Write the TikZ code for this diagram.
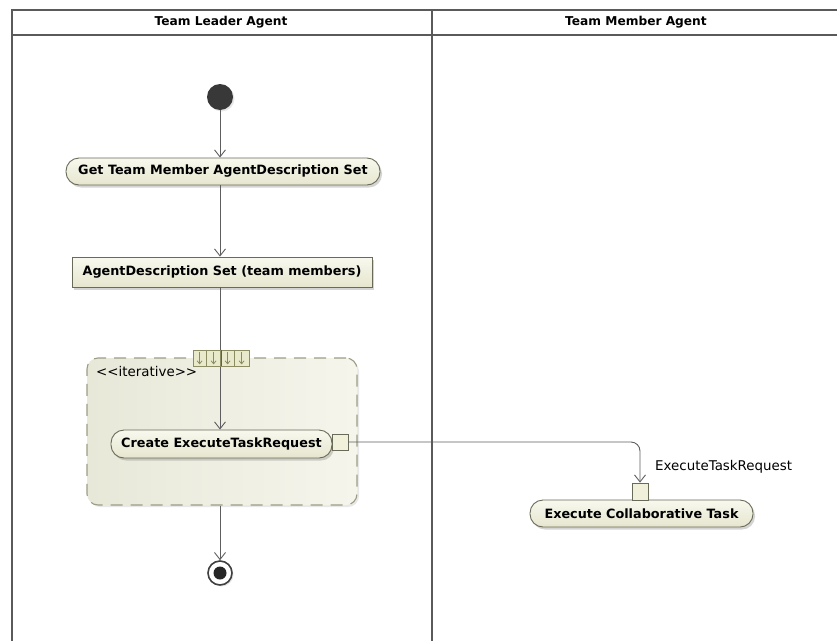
\documentclass[tikz,border=0pt]{standalone}
\usepackage{fontspec}
\setmainfont{DejaVu Sans}
\setsansfont{DejaVu Sans}
\usetikzlibrary{arrows.meta,shadows,calc}

\definecolor{frameline}{HTML}{5A5A5A}
\definecolor{flowline}{HTML}{5E5E5E}
\definecolor{nodeborder}{HTML}{6A6A58}
\definecolor{nodetop}{HTML}{F8F8EE}
\definecolor{nodebot}{HTML}{E6E6CF}
\definecolor{regionleft}{HTML}{E8E8D9}
\definecolor{regionright}{HTML}{F5F5EC}
\definecolor{regionborder}{HTML}{9C9C86}
\definecolor{pinfill}{HTML}{E9E9CC}
\definecolor{pinborder}{HTML}{8C8C62}

\newcommand{\boldtext}{\fontsize{12.8}{15}\selectfont\bfseries}
\newcommand{\plaintext}{\fontsize{13.4}{15}\selectfont}
\newcommand{\lanetitle}[1]{{\fontsize{12.2}{14}\selectfont\bfseries #1}}

\tikzset{
  softshadow/.style={drop shadow={shadow xshift=2pt, shadow yshift=-2.5pt, opacity=0.28, fill=black!60}},
  action/.style={draw=nodeborder, line width=0.9pt, rounded corners=13pt,
    top color=nodetop, bottom color=nodebot, inner sep=0pt, softshadow,
    font=\boldtext, text=black},
  objectbox/.style={draw=nodeborder, line width=0.8pt, top color=nodetop,
    bottom color=nodebot, inner sep=0pt, softshadow, font=\boldtext},
  pinbox/.style={draw=nodeborder, line width=0.8pt, fill=pinfill!70,
    minimum width=16pt, minimum height=16pt, inner sep=0pt},
  region/.style={draw=regionborder, line width=1.1pt, dash pattern=on 12pt off 8pt,
    rounded corners=11pt, left color=regionleft, right color=regionright,
    drop shadow={shadow xshift=2pt, shadow yshift=-2pt, opacity=0.18}},
  flow/.style={draw=flowline, line width=0.9pt,
    -{Straight Barb[length=7pt,width=11pt,line width=0.9pt]}},
  lane/.style={draw=frameline, line width=2pt},
}

\begin{document}
\begin{tikzpicture}[x=1pt,y=-1pt]
  \useasboundingbox (0,0) rectangle (837,640);
  \clip (0,0) rectangle (837,640);

  % swimlane frame
  \draw[lane] (12,650) -- (12,10) -- (845,10);
  \draw[lane] (12,35) -- (845,35);
  \draw[lane] (432,10) -- (432,650);
  \node (leadertitle) at (221,22.5) {\lanetitle{Team Leader Agent}};
  \node (membertitle) at (636,22.5) {\lanetitle{Team Member Agent}};

  % expansion region
  \node[region, minimum width=270pt, minimum height=147pt] (loop) at (222,431.5) {};
  \node[anchor=west, font=\plaintext, inner sep=0pt] (iterlabel) at (96,371) {<{}<iterative>{}>};

  % initial node
  \node[circle, fill=black!78, minimum size=26pt, inner sep=0pt,
        drop shadow={shadow xshift=1.5pt, shadow yshift=-1.5pt, opacity=0.2}] (init) at (220,97) {};

  % actions and object node
  \node[action, minimum width=314pt, minimum height=27pt] (getset) at (223,171.5)
    {Get Team Member AgentDescription Set};
  \node[objectbox, minimum width=300pt, minimum height=30pt] (agentset) at (222,272)
    {AgentDescription Set (team members)};
  \node[action, minimum width=221pt, minimum height=28pt] (create) at (221.5,444)
    {Create ExecuteTaskRequest};
  \node[action, minimum width=223pt, minimum height=27pt] (execute) at (641.5,513.5)
    {Execute Collaborative Task};

  % pins
  \node[pinbox] (outpin) at (340,442) {};
  \node[pinbox, minimum height=17pt] (inpin) at (640,491.5) {};
  \node[anchor=west, font=\plaintext, inner sep=0pt] (pinlabel) at (655,467) {ExecuteTaskRequest};

  % final node
  \node[circle, draw=black!75, line width=1.6pt, fill=white, minimum size=24pt, inner sep=0pt,
        drop shadow={shadow xshift=1.5pt, shadow yshift=-1.5pt, opacity=0.2}] (final) at (220,573) {};
  \node[circle, fill=black!85, minimum size=13pt, inner sep=0pt] (finaldot) at (final) {};

  % control and object flows
  \draw[flow] (init.south) -- (init.south |- getset.north);
  \draw[flow] (init.south |- getset.south) -- (init.south |- agentset.north);
  \draw[flow] (init.south |- agentset.south) -- (init.south |- create.north);
  \draw[flow] (init.south |- loop.south) -- (final.north);
  \draw[flow, rounded corners=9pt] (outpin.east) -| (inpin.north);

  % input expansion node on the region border
  \node[draw=pinborder, line width=0.8pt, fill=pinfill, minimum width=56pt,
        minimum height=16pt, inner sep=0pt] (expnode) at (221,358) {};
  \foreach \i in {1,2,3}
    \draw[pinborder, line width=0.8pt] ($(expnode.north west)+(14*\i,0)$) -- ($(expnode.south west)+(14*\i,0)$);
  \foreach \i in {0,1,2,3}
    \draw[pinborder, line width=0.8pt, -{Straight Barb[length=3pt,width=5pt]}]
      ($(expnode.north west)+(7+14*\i,2)$) -- ($(expnode.south west)+(7+14*\i,-2)$);
  \draw[flowline, line width=0.9pt] (expnode.north) -- (expnode.south);
\end{tikzpicture}
\end{document}
